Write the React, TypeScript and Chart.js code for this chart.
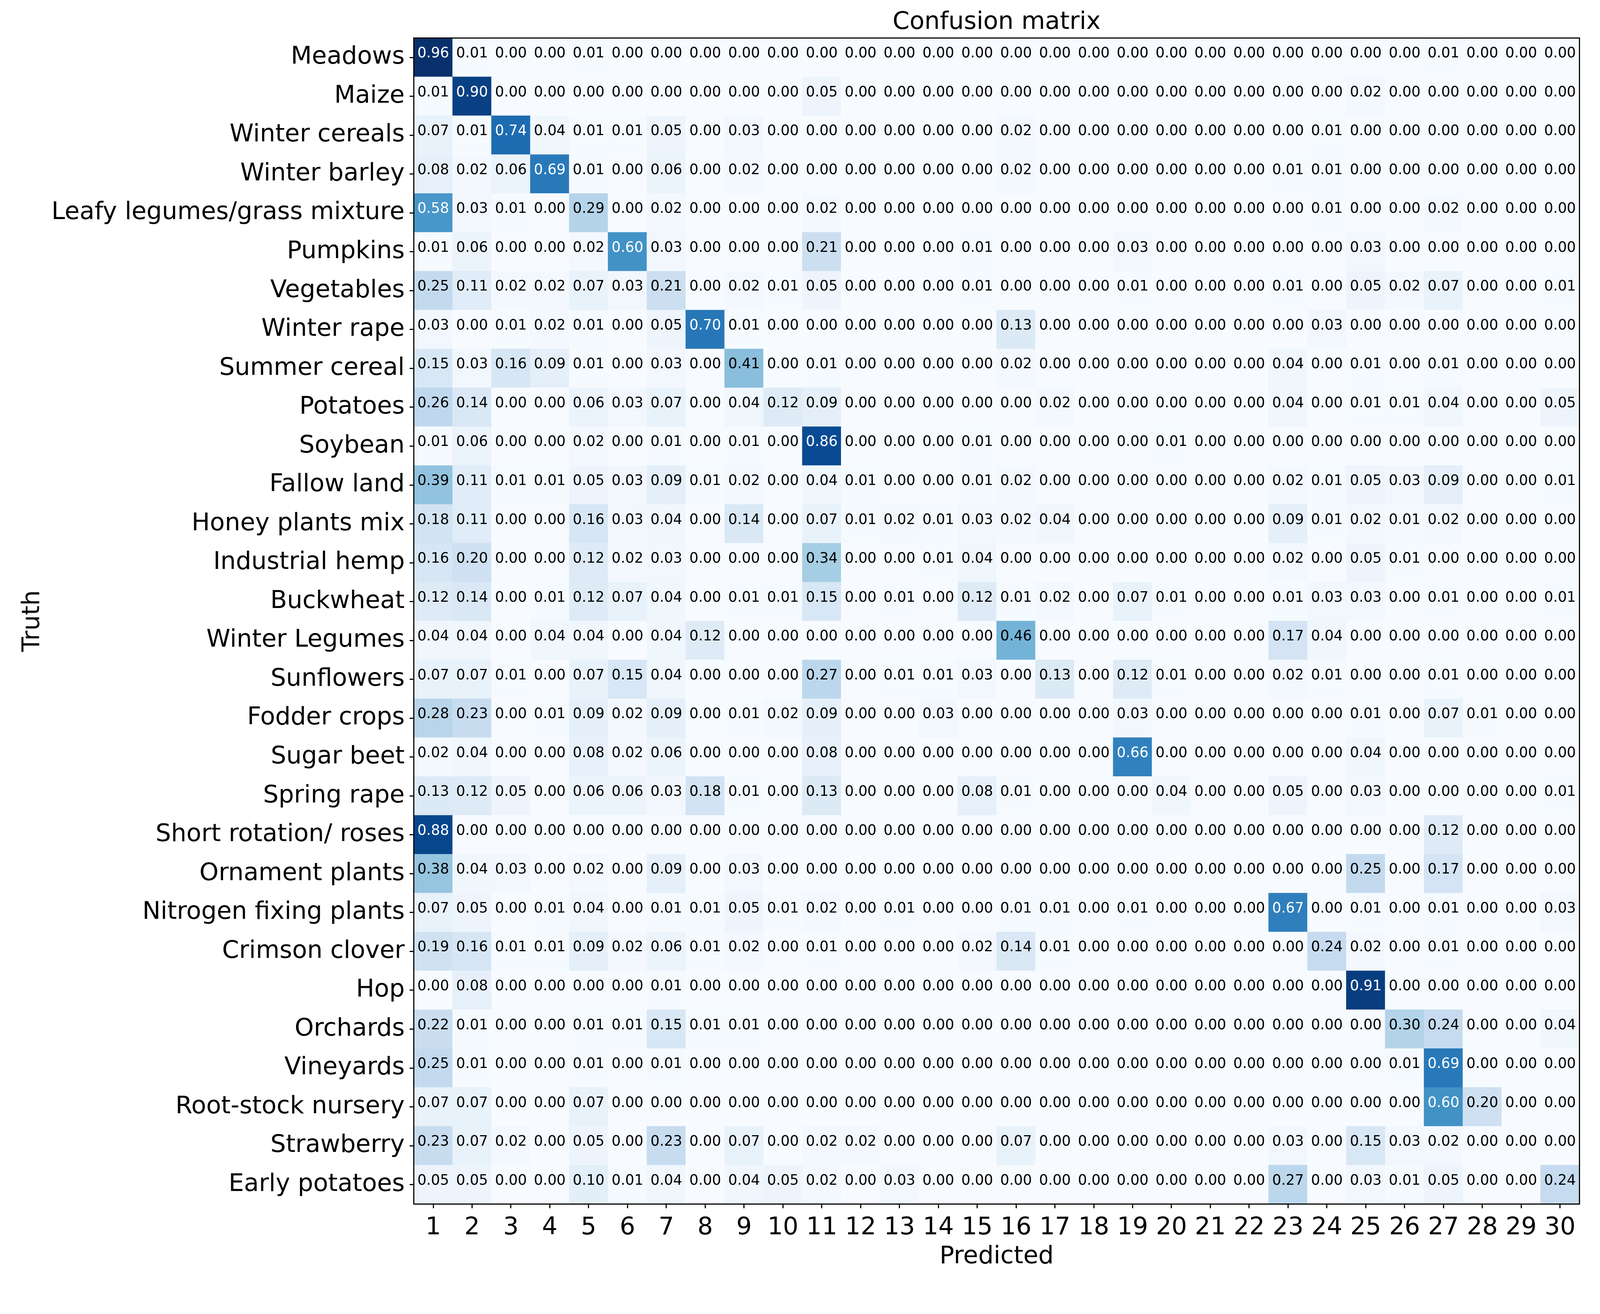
import { useEffect, useRef, useState } from "react";
import { Chart, registerables } from "chart.js";

Chart.register(...registerables);

const predictedLabels = ["1", "2", "3", "4", "5", "6", "7", "8", "9", "10", "11", "12", "13", "14", "15", "16", "17", "18", "19", "20", "21", "22", "23", "24", "25", "26", "27", "28", "29", "30"];

const truthLabels = [
  "Meadows", "Maize", "Winter cereals", "Winter barley", "Leafy legumes/grass mixture",
  "Pumpkins", "Vegetables", "Winter rape", "Summer cereal", "Potatoes",
  "Soybean", "Fallow land", "Honey plants mix", "Industrial hemp", "Buckwheat",
  "Winter Legumes", "Sunflowers", "Fodder crops", "Sugar beet", "Spring rape",
  "Short rotation/ roses", "Ornament plants", "Nitrogen fixing plants", "Crimson clover", "Hop",
  "Orchards", "Vineyards", "Root-stock nursery", "Strawberry", "Early potatoes",
];

const meadows = [0.96, 0.01, 0, 0, 0.01, 0, 0, 0, 0, 0, 0, 0, 0, 0, 0, 0, 0, 0, 0, 0, 0, 0, 0, 0, 0, 0, 0.01, 0, 0, 0];
const maize = [0.01, 0.90, 0, 0, 0, 0, 0, 0, 0, 0, 0.05, 0, 0, 0, 0, 0, 0, 0, 0, 0, 0, 0, 0, 0, 0.02, 0, 0, 0, 0, 0];
const winterCereals = [0.07, 0.01, 0.74, 0.04, 0.01, 0.01, 0.05, 0, 0.03, 0, 0, 0, 0, 0, 0, 0.02, 0, 0, 0, 0, 0, 0, 0, 0.01, 0, 0, 0, 0, 0, 0];
const winterBarley = [0.08, 0.02, 0.06, 0.69, 0.01, 0, 0.06, 0, 0.02, 0, 0, 0, 0, 0, 0, 0.02, 0, 0, 0, 0, 0, 0, 0.01, 0.01, 0, 0, 0, 0, 0, 0];
const leafyLegumes = [0.58, 0.03, 0.01, 0, 0.29, 0, 0.02, 0, 0, 0, 0.02, 0, 0, 0, 0, 0, 0, 0, 0, 0, 0, 0, 0, 0.01, 0, 0, 0.02, 0, 0, 0];
const pumpkins = [0.01, 0.06, 0, 0, 0.02, 0.60, 0.03, 0, 0, 0, 0.21, 0, 0, 0, 0.01, 0, 0, 0, 0.03, 0, 0, 0, 0, 0, 0.03, 0, 0, 0, 0, 0];
const vegetables = [0.25, 0.11, 0.02, 0.02, 0.07, 0.03, 0.21, 0, 0.02, 0.01, 0.05, 0, 0, 0, 0.01, 0, 0, 0, 0.01, 0, 0, 0, 0.01, 0, 0.05, 0.02, 0.07, 0, 0, 0.01];
const winterRape = [0.03, 0, 0.01, 0.02, 0.01, 0, 0.05, 0.70, 0.01, 0, 0, 0, 0, 0, 0, 0.13, 0, 0, 0, 0, 0, 0, 0, 0.03, 0, 0, 0, 0, 0, 0];
const summerCereal = [0.15, 0.03, 0.16, 0.09, 0.01, 0, 0.03, 0, 0.41, 0, 0.01, 0, 0, 0, 0, 0.02, 0, 0, 0, 0, 0, 0, 0.04, 0, 0.01, 0, 0.01, 0, 0, 0];
const potatoes = [0.26, 0.14, 0, 0, 0.06, 0.03, 0.07, 0, 0.04, 0.12, 0.09, 0, 0, 0, 0, 0, 0.02, 0, 0, 0, 0, 0, 0.04, 0, 0.01, 0.01, 0.04, 0, 0, 0.05];
const soybean = [0.01, 0.06, 0, 0, 0.02, 0, 0.01, 0, 0.01, 0, 0.86, 0, 0, 0, 0.01, 0, 0, 0, 0, 0.01, 0, 0, 0, 0, 0, 0, 0, 0, 0, 0];
const fallowLand = [0.39, 0.11, 0.01, 0.01, 0.05, 0.03, 0.09, 0.01, 0.02, 0, 0.04, 0.01, 0, 0, 0.01, 0.02, 0, 0, 0, 0, 0, 0, 0.02, 0.01, 0.05, 0.03, 0.09, 0, 0, 0.01];
const honeyPlants = [0.18, 0.11, 0, 0, 0.16, 0.03, 0.04, 0, 0.14, 0, 0.07, 0.01, 0.02, 0.01, 0.03, 0.02, 0.04, 0, 0, 0, 0, 0, 0.09, 0.01, 0.02, 0.01, 0.02, 0, 0, 0];
const industrialHemp = [0.16, 0.20, 0, 0, 0.12, 0.02, 0.03, 0, 0, 0, 0.34, 0, 0, 0.01, 0.04, 0, 0, 0, 0, 0, 0, 0, 0.02, 0, 0.05, 0.01, 0, 0, 0, 0];
const buckwheat = [0.12, 0.14, 0, 0.01, 0.12, 0.07, 0.04, 0, 0.01, 0.01, 0.15, 0, 0.01, 0, 0.12, 0.01, 0.02, 0, 0.07, 0.01, 0, 0, 0.01, 0.03, 0.03, 0, 0.01, 0, 0, 0.01];
const winterLegumes = [0.04, 0.04, 0, 0.04, 0.04, 0, 0.04, 0.12, 0, 0, 0, 0, 0, 0, 0, 0.46, 0, 0, 0, 0, 0, 0, 0.17, 0.04, 0, 0, 0, 0, 0, 0];
const sunflowers = [0.07, 0.07, 0.01, 0, 0.07, 0.15, 0.04, 0, 0, 0, 0.27, 0, 0.01, 0.01, 0.03, 0, 0.13, 0, 0.12, 0.01, 0, 0, 0.02, 0.01, 0, 0, 0.01, 0, 0, 0];
const fodderCrops = [0.28, 0.23, 0, 0.01, 0.09, 0.02, 0.09, 0, 0.01, 0.02, 0.09, 0, 0, 0.03, 0, 0, 0, 0, 0.03, 0, 0, 0, 0, 0, 0.01, 0, 0.07, 0.01, 0, 0];
const sugarBeet = [0.02, 0.04, 0, 0, 0.08, 0.02, 0.06, 0, 0, 0, 0.08, 0, 0, 0, 0, 0, 0, 0, 0.66, 0, 0, 0, 0, 0, 0.04, 0, 0, 0, 0, 0];
const springRape = [0.13, 0.12, 0.05, 0, 0.06, 0.06, 0.03, 0.18, 0.01, 0, 0.13, 0, 0, 0, 0.08, 0.01, 0, 0, 0, 0.04, 0, 0, 0.05, 0, 0.03, 0, 0, 0, 0, 0.01];
const shortRotation = [0.88, 0, 0, 0, 0, 0, 0, 0, 0, 0, 0, 0, 0, 0, 0, 0, 0, 0, 0, 0, 0, 0, 0, 0, 0, 0, 0.12, 0, 0, 0];
const ornamentPlants = [0.38, 0.04, 0.03, 0, 0.02, 0, 0.09, 0, 0.03, 0, 0, 0, 0, 0, 0, 0, 0, 0, 0, 0, 0, 0, 0, 0, 0.25, 0, 0.17, 0, 0, 0];
const nitrogenFixing = [0.07, 0.05, 0, 0.01, 0.04, 0, 0.01, 0.01, 0.05, 0.01, 0.02, 0, 0.01, 0, 0, 0.01, 0.01, 0, 0.01, 0, 0, 0, 0.67, 0, 0.01, 0, 0.01, 0, 0, 0.03];
const crimsonClover = [0.19, 0.16, 0.01, 0.01, 0.09, 0.02, 0.06, 0.01, 0.02, 0, 0.01, 0, 0, 0, 0.02, 0.14, 0.01, 0, 0, 0, 0, 0, 0, 0.24, 0.02, 0, 0.01, 0, 0, 0];
const hop = [0, 0.08, 0, 0, 0, 0, 0.01, 0, 0, 0, 0, 0, 0, 0, 0, 0, 0, 0, 0, 0, 0, 0, 0, 0, 0.91, 0, 0, 0, 0, 0];
const orchards = [0.22, 0.01, 0, 0, 0.01, 0.01, 0.15, 0.01, 0.01, 0, 0, 0, 0, 0, 0, 0, 0, 0, 0, 0, 0, 0, 0, 0, 0, 0.30, 0.24, 0, 0, 0.04];
const vineyards = [0.25, 0.01, 0, 0, 0.01, 0, 0.01, 0, 0, 0, 0, 0, 0, 0, 0, 0, 0, 0, 0, 0, 0, 0, 0, 0, 0, 0.01, 0.69, 0, 0, 0];
const rootStock = [0.07, 0.07, 0, 0, 0.07, 0, 0, 0, 0, 0, 0, 0, 0, 0, 0, 0, 0, 0, 0, 0, 0, 0, 0, 0, 0, 0, 0.60, 0.20, 0, 0];
const strawberry = [0.23, 0.07, 0.02, 0, 0.05, 0, 0.23, 0, 0.07, 0, 0.02, 0.02, 0, 0, 0, 0.07, 0, 0, 0, 0, 0, 0, 0.03, 0, 0.15, 0.03, 0.02, 0, 0, 0];
const earlyPotatoes = [0.05, 0.05, 0, 0, 0.10, 0.01, 0.04, 0, 0.04, 0.05, 0.02, 0, 0.03, 0, 0, 0, 0, 0, 0, 0, 0, 0, 0.27, 0, 0.03, 0.01, 0.05, 0, 0, 0.24];

const confusionRows = [
  meadows, maize, winterCereals, winterBarley, leafyLegumes, pumpkins, vegetables, winterRape,
  summerCereal, potatoes, soybean, fallowLand, honeyPlants, industrialHemp, buckwheat,
  winterLegumes, sunflowers, fodderCrops, sugarBeet, springRape, shortRotation, ornamentPlants,
  nitrogenFixing, crimsonClover, hop, orchards, vineyards, rootStock, strawberry, earlyPotatoes,
];

// matplotlib "Blues" colormap control colors
const bluesStops: [number, number, number][] = [
  [247, 251, 255], [222, 235, 247], [198, 219, 239], [158, 202, 225], [107, 174, 214],
  [66, 146, 198], [33, 113, 181], [8, 81, 156], [8, 48, 107],
];

function blues(t: number): string {
  const x = Math.max(0, Math.min(1, t)) * (bluesStops.length - 1);
  const i = Math.min(bluesStops.length - 2, Math.floor(x));
  const f = x - i;
  const a = bluesStops[i], b = bluesStops[i + 1];
  const c = a.map((v, k) => Math.round(v + (b[k] - v) * f));
  return `rgb(${c[0]},${c[1]},${c[2]})`;
}

const FONT = "'DejaVu Sans', 'Liberation Sans', sans-serif";
// design reference frame (px of the 4207 x 3365 reference)
const REF_W = 4207;
const REF_H = 3365;

function makeMatrixPlugin(k: number) {
  return {
    id: "matrixCells",
    beforeDatasetsDraw(chart: any) {
      const { ctx, scales } = chart;
      const xs = scales.x;
      const ys = scales.y;
      let vmin = Infinity, vmax = -Infinity;
      confusionRows.forEach((r) => r.forEach((v) => { vmin = Math.min(vmin, v); vmax = Math.max(vmax, v); }));
      const thresh = (vmin + vmax) / 2;
      const cw = Math.abs(xs.getPixelForValue(1) - xs.getPixelForValue(0));
      const ch = Math.abs(ys.getPixelForValue(1) - ys.getPixelForValue(0));
      ctx.save();
      confusionRows.forEach((row, ri) => {
        const cy = ys.getPixelForValue(ri);
        row.forEach((v, ci) => {
          const cx = xs.getPixelForValue(ci);
          ctx.fillStyle = blues((v - vmin) / (vmax - vmin));
          ctx.fillRect(cx - cw / 2 - 0.5, cy - ch / 2 - 0.5, cw + 1, ch + 1);
        });
      });
      ctx.font = `${37.5 * k}px ${FONT}`;
      ctx.textAlign = "center";
      ctx.textBaseline = "alphabetic";
      confusionRows.forEach((row, ri) => {
        const cy = ys.getPixelForValue(ri);
        row.forEach((v, ci) => {
          const cx = xs.getPixelForValue(ci);
          ctx.fillStyle = v > thresh ? "#ffffff" : "#000000";
          ctx.fillText(v.toFixed(2), cx, cy);
        });
      });
      ctx.restore();
    },
    afterDraw(chart: any) {
      const { ctx, chartArea } = chart;
      ctx.save();
      ctx.strokeStyle = "#000";
      ctx.lineWidth = 3 * k;
      ctx.strokeRect(chartArea.left, chartArea.top, chartArea.right - chartArea.left, chartArea.bottom - chartArea.top);
      ctx.restore();
    },
  };
}

export default function App() {
  const ref = useRef<HTMLCanvasElement | null>(null);
  const [size] = useState(() => {
    const w = typeof window !== "undefined" ? window.innerWidth : REF_W;
    return { w, h: Math.round((REF_H * w) / REF_W) };
  });
  const k = size.w / REF_W;

  useEffect(() => {
    if (!ref.current) return;
    const points: { x: string; y: string }[] = [];
    truthLabels.forEach((t) => predictedLabels.forEach((p) => points.push({ x: p, y: t })));
    const fontSize = 64 * k;
    const chart = new Chart(ref.current, {
      type: "scatter",
      data: {
        datasets: [
          {
            data: points as any,
            pointRadius: 0,
            pointHoverRadius: 0,
            showLine: false,
          },
        ],
      },
      plugins: [makeMatrixPlugin(k)],
      options: {
        animation: false,
        responsive: false,
        events: [],
        layout: { padding: { left: 0, right: size.w - 4153 * k, top: 0, bottom: 0 } },
        plugins: {
          legend: { display: false },
          tooltip: { enabled: false },
          title: {
            display: true,
            text: "Confusion matrix",
            fullSize: false,
            color: "#000",
            font: { family: FONT, size: fontSize, weight: "normal", lineHeight: 1.2 },
            padding: { top: 21 * k, bottom: (100 - 21 - 64 * 1.2) * k },
          },
        },
        scales: {
          x: {
            type: "category",
            labels: predictedLabels,
            offset: true,
            position: "bottom",
            grid: {
              display: true,
              drawOnChartArea: false,
              drawTicks: true,
              offset: false,
              tickLength: 11 * k,
              tickWidth: 3 * k,
              tickColor: "#000",
              color: "#000",
            },
            border: { display: false },
            ticks: {
              color: "#000",
              font: { family: FONT, size: fontSize },
              padding: 14 * k,
              maxRotation: 0,
              autoSkip: false,
            },
            title: {
              display: true,
              text: "Predicted",
              color: "#000",
              font: { family: FONT, size: fontSize, lineHeight: 1.2 },
              padding: { top: 0, bottom: 20 * k },
            },
            afterFit(axis: any) {
              axis.height = size.h - 3167 * k;
            },
          },
          y: {
            type: "category",
            labels: truthLabels,
            offset: true,
            position: "left",
            grid: {
              display: true,
              drawOnChartArea: false,
              drawTicks: true,
              offset: false,
              tickLength: 11 * k,
              tickWidth: 3 * k,
              tickColor: "#000",
              color: "#000",
            },
            border: { display: false },
            ticks: {
              color: "#000",
              font: { family: FONT, size: fontSize },
              padding: 13 * k,
              autoSkip: false,
            },
            title: {
              display: true,
              text: "Truth",
              color: "#000",
              font: { family: FONT, size: fontSize, lineHeight: 1.2 },
              padding: { top: 48 * k, bottom: 0 },
            },
            afterFit(axis: any) {
              axis.width = 1088 * k;
            },
          },
        },
      } as any,
    });
    return () => chart.destroy();
  }, [k, size.w, size.h]);

  return (
    <div style={{ position: "fixed", left: 0, top: 0, width: size.w, height: size.h, background: "#fff" }}>
      <canvas ref={ref} style={{ width: size.w, height: size.h, display: "block" }} width={size.w} height={size.h} />
    </div>
  );
}
